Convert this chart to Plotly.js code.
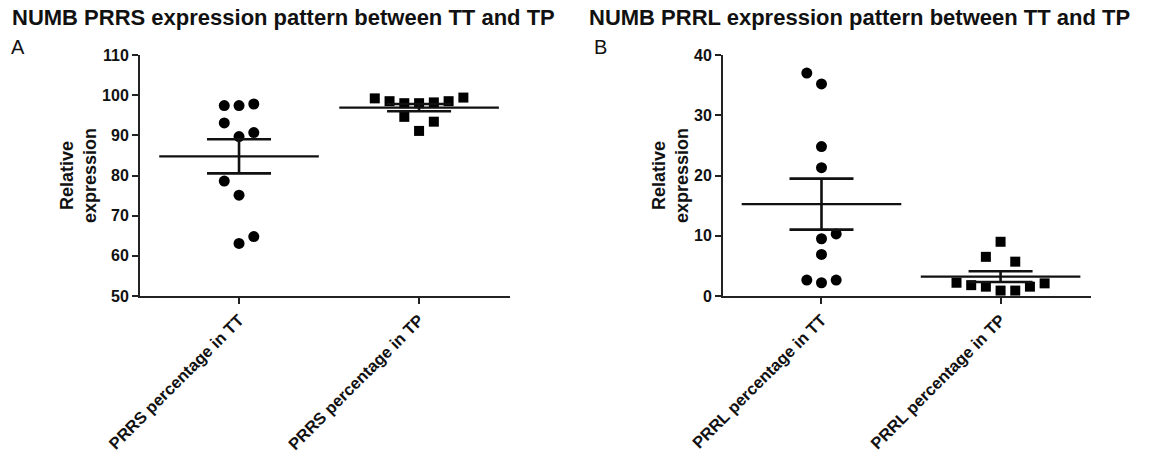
<!DOCTYPE html>
<html>
<head>
<meta charset="utf-8">
<script src="https://cdn.plot.ly/plotly-3.0.1.min.js"></script>
<style>html,body{margin:0;padding:0;background:#fff;}#chart{width:1159px;height:461px;}</style>
</head>
<body>
<div id="chart"></div>
<script>
// ---- data ----
const titleA = "NUMB PRRS expression pattern between TT and TP";
const titleB = "NUMB PRRL expression pattern between TT and TP";
const catsA = ["PRRS percentage in TT", "PRRS percentage in TP"];
const catsB = ["PRRL percentage in TT", "PRRL percentage in TP"];
const yTitle = "Relative<br>expression";

const prrsTT = [97.4, 97.4, 97.8, 93.1, 89.7, 90.7, 78.6, 75.1, 63.1, 64.8];
const prrsTTcol = [-1, 0, 1, -1, 0, 1, -1, 0, 0, 1];
const prrsTP = [99.2, 98.5, 98.0, 94.6, 98.0, 91.1, 98.2, 93.4, 98.5, 99.4];
const prrsTPcol = [-3, -2, -1, -1, 0, 0, 1, 1, 2, 3];

const prrlTT = [37.0, 35.2, 24.8, 21.3, 10.3, 9.5, 6.9, 2.65, 2.2, 2.65];
const prrlTTcol = [-1, 0, 0, 0, 1, 0, 0, -1, 0, 1];
const prrlTP = [2.2, 1.8, 6.5, 1.55, 9.0, 0.9, 5.7, 0.9, 1.55, 2.1];
const prrlTPcol = [-3, -2, -1, -1, 0, 0, 1, 1, 2, 3];

// ---- helpers ----
const W = 1159, H = 461;
const px = x => x / W, py = y => (H - y) / H;
const SPREAD = 0.082;
const FONT = "Liberation Sans, Arial, Helvetica, sans-serif";
const mean = a => a.reduce((s, v) => s + v, 0) / a.length;
const sem = a => { const m = mean(a); return Math.sqrt(a.reduce((s, v) => s + (v - m) * (v - m), 0) / (a.length - 1) / a.length); };

function points(vals, cols, cat, symbol, size, xa, ya) {
  return { type: "scatter", mode: "markers", x: cols.map(c => cat + c * SPREAD), y: vals,
    xaxis: xa, yaxis: ya, marker: { symbol: symbol, size: size, color: "#000" }, hoverinfo: "y" };
}
function meanSem(vals, cat, xa, ya) {
  return { type: "scatter", mode: "markers", x: [cat], y: [mean(vals)], xaxis: xa, yaxis: ya,
    marker: { symbol: "line-ew", size: 114, color: "#000", line: { color: "#111", width: 2.2 } },
    error_y: { type: "data", array: [sem(vals)], visible: true, color: "#111", thickness: 2.6, width: 32 },
    hoverinfo: "y" };
}

const traces = [
  points(prrsTT, prrsTTcol, 0, "circle", 11, "x", "y"),
  points(prrsTP, prrsTPcol, 1, "square", 10, "x", "y"),
  meanSem(prrsTT, 0, "x", "y"),
  meanSem(prrsTP, 1, "x", "y"),
  points(prrlTT, prrlTTcol, 0, "circle", 11, "x2", "y2"),
  points(prrlTP, prrlTPcol, 1, "square", 10, "x2", "y2"),
  meanSem(prrlTT, 0, "x2", "y2"),
  meanSem(prrlTP, 1, "x2", "y2")
];

const tickFont = { family: FONT, size: 16, color: "#111", weight: "bold" };
function xax(dom, cats, anchor) {
  return { domain: dom, anchor: anchor, range: [-0.55, 1.505], tickmode: "array", tickvals: [0, 1], ticktext: cats,
    tickangle: -45, tickfont: { family: FONT, size: 16.5, color: "#111", weight: "bold" },
    showline: true, linecolor: "#222", linewidth: 2, ticks: "outside", ticklen: 6, tickwidth: 2, tickcolor: "#222",
    showgrid: false, zeroline: false, fixedrange: true };
}
function yax(range, anchor) {
  return { domain: [py(296), py(55)], anchor: anchor, range: range, dtick: 10, tickfont: tickFont,
    showline: true, linecolor: "#222", linewidth: 2, ticks: "outside", ticklen: 6, tickwidth: 2, tickcolor: "#222",
    showgrid: false, zeroline: false, fixedrange: true };
}

const layout = {
  width: W, height: H, margin: { l: 0, r: 0, t: 0, b: 0 }, showlegend: false,
  paper_bgcolor: "#fff", plot_bgcolor: "#fff",
  xaxis: xax([px(140), px(510)], catsA, "y"),
  yaxis: yax([50, 110], "x"),
  xaxis2: xax([px(723), px(1091)], catsB, "y2"),
  yaxis2: yax([0, 40], "x2"),
  annotations: [
    { text: titleA, xref: "paper", yref: "paper", x: px(10), y: py(18), xanchor: "left", yanchor: "middle", showarrow: false,
      font: { family: FONT, size: 22, color: "#111", weight: "bold" } },
    { text: titleB, xref: "paper", yref: "paper", x: px(587), y: py(18), xanchor: "left", yanchor: "middle", showarrow: false,
      font: { family: FONT, size: 22, color: "#111", weight: "bold" } },
    { text: "A", xref: "paper", yref: "paper", x: px(9), y: py(47), xanchor: "left", yanchor: "middle", showarrow: false,
      font: { family: FONT, size: 20, color: "#111" } },
    { text: "B", xref: "paper", yref: "paper", x: px(592), y: py(47), xanchor: "left", yanchor: "middle", showarrow: false,
      font: { family: FONT, size: 20, color: "#111" } },
    { text: yTitle, xref: "paper", yref: "paper", x: px(78), y: py(176), xanchor: "center", yanchor: "middle", showarrow: false,
      textangle: -90, font: { family: FONT, size: 18, color: "#111", weight: "bold" } },
    { text: yTitle, xref: "paper", yref: "paper", x: px(670), y: py(176), xanchor: "center", yanchor: "middle", showarrow: false,
      textangle: -90, font: { family: FONT, size: 18, color: "#111", weight: "bold" } }
  ]
};

Plotly.newPlot("chart", traces, layout, { displayModeBar: false, staticPlot: true });
</script>
</body>
</html>
